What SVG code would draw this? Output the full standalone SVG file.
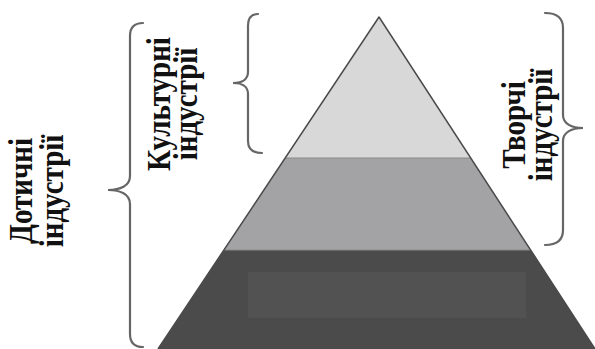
<svg xmlns="http://www.w3.org/2000/svg" width="595" height="349" viewBox="0 0 595 349">
<style>
.lbl{font-family:"Liberation Serif","Times New Roman",serif;font-weight:bold;font-size:29px;fill:#111;text-anchor:middle}
.brace{fill:none;stroke:#666;stroke-width:2.2;stroke-linecap:round}
.sep{stroke:#8a8a8a;stroke-width:1}
</style>
<rect width="595" height="349" fill="#fff"/>
<g id="pyramid">
<polygon id="tier-top" points="379,17 285,158 471,158" fill="#d8d8d8"/>
<polygon id="tier-mid" points="285,158 471,158 531,250 224,250" fill="#a3a3a5"/>
<polygon id="tier-bottom" points="224,250 531,250 595,349 158,349" fill="#4b4b4b"/>
<rect x="248" y="272" width="278" height="46" fill="#525252"/>
<line class="sep" x1="285" y1="158" x2="471" y2="158"/>
<line class="sep" x1="224" y1="250" x2="531" y2="250"/>
<polyline points="158,349 379,17 595,349" fill="none" stroke="#4a4a4a" stroke-width="1.5" stroke-linejoin="round"/>
</g>
<g id="connectors">
<path class="brace" d="M143,23 Q130,23 130,36 V176 C130,186 120,190 108,190 C120,190 130,194 130,204 V334 Q130,347 143,347"/>
<path class="brace" d="M258,14 Q248,14 248,26 V72 C248,80 241,83 233,83 C241,83 248,86 248,94 V141 Q248,153 262,153"/>
<path class="brace" d="M545,13 Q563,13 563,28 V115 C563,124 572,128 583,128 C572,128 563,132 563,141 V230 Q563,245 545,245"/>
</g>
<g id="label-dotychni">
<text class="lbl" transform="translate(32,191) rotate(-90) scale(1,1.13)">Дотичні</text>
<text class="lbl" transform="translate(63,191) rotate(-90) scale(1,1.13)">індустрії</text>
</g>
<g id="label-kulturni">
<text class="lbl" transform="translate(170,104) rotate(-90) scale(1,1.13)">Культурні</text>
<text class="lbl" transform="translate(197,104) rotate(-90) scale(1,1.13)">індустрії</text>
</g>
<g id="label-tvorchi">
<text class="lbl" transform="translate(525,125) rotate(-90) scale(1,1.13)">Творчі</text>
<text class="lbl" transform="translate(552,125) rotate(-90) scale(1,1.13)">індустрії</text>
</g>
</svg>
